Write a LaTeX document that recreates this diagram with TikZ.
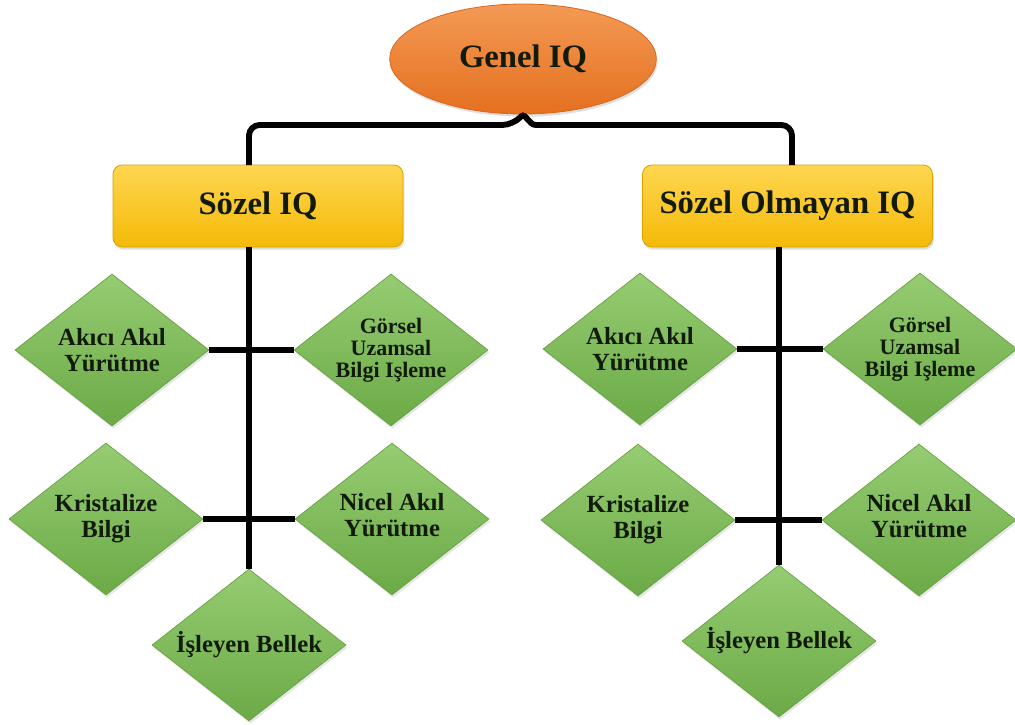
\documentclass[tikz,border=0pt]{standalone}
\usepackage{fontspec}
\setmainfont{Liberation Serif}
\usetikzlibrary{shapes.geometric,shadows}
\definecolor{orTop}{HTML}{F39A55}
\definecolor{orBot}{HTML}{E5701F}
\definecolor{orEdge}{HTML}{D9661E}
\definecolor{yeTop}{HTML}{FFD650}
\definecolor{yeBot}{HTML}{F4BA08}
\definecolor{yeEdge}{HTML}{D8A200}
\definecolor{grTop}{HTML}{96CC72}
\definecolor{grBot}{HTML}{6BAA46}
\definecolor{grEdge}{HTML}{65A040}
\definecolor{txt}{HTML}{111A0B}
\begin{document}
\begin{tikzpicture}[x=0.75pt,y=-0.75pt,
  every node/.style={font=\bfseries, text=txt},
  topell/.style={ellipse, minimum width=200pt, minimum height=82.5pt, inner sep=0pt,
    top color=orTop, bottom color=orBot, draw=orEdge, line width=0.6pt,
    drop shadow={shadow xshift=1pt, shadow yshift=-2pt, opacity=0.25}},
  iqbox/.style={rectangle, rounded corners=7pt, minimum width=217.5pt, minimum height=61.5pt, inner sep=0pt,
    top color=yeTop, bottom color=yeBot, draw=yeEdge, line width=0.6pt,
    drop shadow={shadow xshift=1pt, shadow yshift=-2pt, opacity=0.25}},
  dia/.style={diamond, minimum width=145.5pt, minimum height=114pt, inner sep=0pt,
    top color=grTop, bottom color=grBot, draw=grEdge, line width=0.5pt,
    drop shadow={shadow xshift=1pt, shadow yshift=-2pt, opacity=0.2}},
  btxt/.style={font=\bfseries\fontsize{24.5}{26}\selectfont},
  dtxt/.style={align=center, font=\bfseries\fontsize{18.5}{19.5}\selectfont, inner sep=0pt},
  dtxs/.style={align=center, font=\bfseries\fontsize{16.5}{16.5}\selectfont, inner sep=0pt},
  conn/.style={line width=4.4pt, black}
]
\useasboundingbox (0,0) rectangle (1015,725);

% top
\node[topell] (g) at (523,59) {};
\node[btxt] (gt) at (g.center) {Genel IQ};

% boxes
\node[iqbox] (s1) at (258,206) {};
\node[btxt] (s1t) at (s1.center) {Sözel IQ};
\node[iqbox] (s2) at (787.5,206) {};
\node[btxt] (s2t) at (s2.center) {Sözel Olmayan IQ};

% left diamonds
\node[dia] (a1) at (112,350) {};
\node[dia] (g1) at (391,350) {};
\node[dia] (k1) at (106,519) {};
\node[dia] (n1) at (392,519) {};
\node[dia] (i1) at (249,645) {};
% right diamonds
\node[dia] (a2) at (640,349) {};
\node[dia] (g2) at (920,349) {};
\node[dia] (k2) at (638,520) {};
\node[dia] (n2) at (919,520) {};
\node[dia] (i2) at (779,641) {};

% texts
\node[dtxt] (a1t) at (a1.center) {Akıcı Akıl\\Yürütme};
\node[dtxs] (g1t) at (g1.center) {Görsel\\Uzamsal\\Bilgi Işleme};
\node[dtxt] (k1t) at (k1.center) {Kristalize\\Bilgi};
\node[dtxt] (n1t) at ([yshift=3pt]n1.center) {Nicel Akıl\\Yürütme};
\node[dtxt] (i1t) at (i1.center) {İşleyen Bellek};
\node[dtxt] (a2t) at (a2.center) {Akıcı Akıl\\Yürütme};
\node[dtxs] (g2t) at (g2.center) {Görsel\\Uzamsal\\Bilgi Işleme};
\node[dtxt] (k2t) at (k2.center) {Kristalize\\Bilgi};
\node[dtxt] (n2t) at ([yshift=3pt]n2.center) {Nicel Akıl\\Yürütme};
\node[dtxt] (i2t) at (i2.center) {İşleyen Bellek};

% connectors
\coordinate (ltop) at (249,165);
\coordinate (rtop) at (792,165);
\draw[conn, rounded corners=8pt] (ltop) -- (249,125) -- (513,125)
   [rounded corners=2pt] -- (g.south) -- (533,125) [rounded corners=8pt] -- (792,125) -- (rtop);

\draw[conn] (i1.north) -- (i1.north |- s1.south);
\draw[conn] (a1.east) -- (g1.west);
\draw[conn] (k1.east) -- (n1.west);

\draw[conn] (i2.north) -- (i2.north |- s2.south);
\draw[conn] (a2.east) -- (g2.west);
\draw[conn] (k2.east) -- (n2.west);
\end{tikzpicture}
\end{document}
